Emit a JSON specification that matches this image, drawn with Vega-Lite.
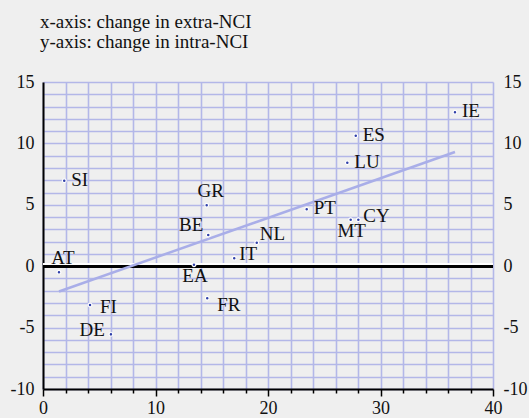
{
  "$schema": "https://vega.github.io/schema/vega-lite/v6.json",
  "width": 450,
  "height": 307,
  "autosize": {"type": "none"},
  "padding": {"left": 43, "top": 82, "right": 36, "bottom": 29},
  "background": "#efefef",
  "title": {
    "text": ["x-axis: change in extra-NCI", "y-axis: change in intra-NCI"],
    "anchor": "start",
    "frame": "group",
    "font": "'Liberation Serif', 'Times New Roman', serif",
    "fontSize": 19,
    "fontWeight": "normal",
    "color": "#111111",
    "lineHeight": 20,
    "offset": 6,
    "baseline": "alphabetic",
    "dx": -3
  },
  "config": {
    "view": {"stroke": null},
    "font": "'Liberation Serif', 'Times New Roman', serif",
    "text": {"font": "'Liberation Serif', 'Times New Roman', serif", "fontSize": 19, "color": "#111111", "baseline": "middle"}
  },
  "data": {
    "values": [
      {"country": "IE", "x": 36.62, "y": 12.53},
      {"country": "ES", "x": 27.8, "y": 10.63},
      {"country": "LU", "x": 27.05, "y": 8.43},
      {"country": "PT", "x": 23.44, "y": 4.63},
      {"country": "MT", "x": 27.35, "y": 3.78},
      {"country": "CY", "x": 28.03, "y": 3.78},
      {"country": "SI", "x": 1.89, "y": 6.96},
      {"country": "GR", "x": 14.55, "y": 4.96},
      {"country": "BE", "x": 14.69, "y": 2.54},
      {"country": "NL", "x": 19.0, "y": 1.91},
      {"country": "IT", "x": 17.0, "y": 0.64},
      {"country": "EA", "x": 13.42, "y": 0.12},
      {"country": "AT", "x": 1.42, "y": -0.5},
      {"country": "FI", "x": 4.18, "y": -3.16},
      {"country": "FR", "x": 14.6, "y": -2.61},
      {"country": "DE", "x": 6.04, "y": -5.55}
    ]
  },
  "resolve": {"axis": {"x": "independent", "y": "independent"}},
  "layer": [
    {
      "mark": {"type": "circle", "size": 0, "opacity": 0},
      "encoding": {
        "x": {
          "field": "x", "type": "quantitative",
          "scale": {"domain": [0, 40], "nice": false, "zero": false},
          "axis": {
            "title": null,
            "values": [0, 2, 4, 6, 8, 10, 12, 14, 16, 18, 20, 22, 24, 26, 28, 30, 32, 34, 36, 38, 40],
            "labelExpr": "datum.value % 10 === 0 ? datum.label : ''",
            "grid": true, "gridColor": "#b3b7e8", "gridWidth": 1.6, "gridOpacity": 1,
            "domainColor": "#000000", "domainWidth": 2,
            "tickColor": "#000000", "tickWidth": 1.5,
            "tickSize": {"condition": {"test": "datum.value % 10 === 0", "value": 7}, "value": 4},
            "labelFont": "'Liberation Serif', 'Times New Roman', serif", "labelFontSize": 18, "labelColor": "#111111",
            "labelPadding": 3, "labelFlush": false, "labelOverlap": false
          }
        },
        "y": {
          "field": "y", "type": "quantitative",
          "scale": {"domain": [-10, 15], "nice": false, "zero": false},
          "axis": {
            "title": null,
            "values": [-10, -9, -8, -7, -6, -5, -4, -3, -2, -1, 0, 1, 2, 3, 4, 5, 6, 7, 8, 9, 10, 11, 12, 13, 14, 15],
            "labelExpr": "datum.value % 5 === 0 ? (datum.value < 0 ? '-' + abs(datum.value) : '' + datum.value) : ''",
            "grid": true, "gridColor": "#b3b7e8", "gridWidth": 1.6, "gridOpacity": 1,
            "domainColor": "#000000", "domainWidth": 2,
            "ticks": false,
            "labelFont": "'Liberation Serif', 'Times New Roman', serif", "labelFontSize": 18, "labelColor": "#111111",
            "labelPadding": 9, "labelFlush": false, "labelOverlap": false
          }
        }
      }
    },
    {
      "mark": {"type": "rule", "color": "#ffffff", "strokeWidth": 2, "yOffset": -2},
      "encoding": {"y": {"datum": 0, "type": "quantitative", "axis": null}}
    },
    {
      "mark": {"type": "rule", "color": "#000000", "strokeWidth": 2},
      "encoding": {"y": {"datum": 0, "type": "quantitative", "axis": null}}
    },
    {
      "transform": [{"regression": "y", "on": "x"}],
      "mark": {"type": "line", "color": "#a9aee8", "strokeWidth": 2.5},
      "encoding": {
        "x": {"field": "x", "type": "quantitative", "axis": null},
        "y": {
          "field": "y", "type": "quantitative",
          "axis": {
            "orient": "right", "title": null,
            "values": [-10, -5, 0, 5, 10, 15],
            "labelExpr": "datum.value < 0 ? '-' + abs(datum.value) : '' + datum.value",
            "grid": false, "domain": false, "ticks": false,
            "labelFont": "'Liberation Serif', 'Times New Roman', serif", "labelFontSize": 18, "labelColor": "#111111",
            "labelPadding": 10, "labelFlush": false, "labelOverlap": false
          }
        }
      }
    },
    {
      "mark": {"type": "circle", "size": 14, "color": "#2f3fa8", "opacity": 1, "stroke": "#ffffff", "strokeWidth": 1.2},
      "encoding": {
        "x": {"field": "x", "type": "quantitative", "axis": null},
        "y": {"field": "y", "type": "quantitative", "axis": null}
      }
    },
    {
      "transform": [{"filter": {"field": "country", "oneOf": ["SI", "IE", "ES", "LU", "PT"]}}],
      "mark": {"type": "text", "align": "left", "dx": 7, "dy": -1},
      "encoding": {
        "x": {"field": "x", "type": "quantitative", "axis": null},
        "y": {"field": "y", "type": "quantitative", "axis": null},
        "text": {"field": "country"}
      }
    },
    {
      "transform": [{"filter": {"field": "country", "oneOf": ["IT", "CY"]}}],
      "mark": {"type": "text", "align": "left", "dx": 5, "dy": -4},
      "encoding": {
        "x": {"field": "x", "type": "quantitative", "axis": null},
        "y": {"field": "y", "type": "quantitative", "axis": null},
        "text": {"field": "country"}
      }
    },
    {
      "transform": [{"filter": {"field": "country", "equal": "FI"}}],
      "mark": {"type": "text", "align": "left", "dx": 10, "dy": 2},
      "encoding": {
        "x": {"field": "x", "type": "quantitative", "axis": null},
        "y": {"field": "y", "type": "quantitative", "axis": null},
        "text": {"field": "country"}
      }
    },
    {
      "transform": [{"filter": {"field": "country", "equal": "FR"}}],
      "mark": {"type": "text", "align": "left", "dx": 10, "dy": 7},
      "encoding": {
        "x": {"field": "x", "type": "quantitative", "axis": null},
        "y": {"field": "y", "type": "quantitative", "axis": null},
        "text": {"field": "country"}
      }
    },
    {
      "transform": [{"filter": {"field": "country", "equal": "NL"}}],
      "mark": {"type": "text", "align": "left", "dx": 3, "dy": -9},
      "encoding": {
        "x": {"field": "x", "type": "quantitative", "axis": null},
        "y": {"field": "y", "type": "quantitative", "axis": null},
        "text": {"field": "country"}
      }
    },
    {
      "transform": [{"filter": {"field": "country", "oneOf": ["GR", "AT"]}}],
      "mark": {"type": "text", "align": "center", "dx": 4, "dy": -14},
      "encoding": {
        "x": {"field": "x", "type": "quantitative", "axis": null},
        "y": {"field": "y", "type": "quantitative", "axis": null},
        "text": {"field": "country"}
      }
    },
    {
      "transform": [{"filter": {"field": "country", "oneOf": ["EA", "MT"]}}],
      "mark": {"type": "text", "align": "center", "dx": 1, "dy": 11},
      "encoding": {
        "x": {"field": "x", "type": "quantitative", "axis": null},
        "y": {"field": "y", "type": "quantitative", "axis": null},
        "text": {"field": "country"}
      }
    },
    {
      "transform": [{"filter": {"field": "country", "equal": "BE"}}],
      "mark": {"type": "text", "align": "right", "dx": -5, "dy": -10},
      "encoding": {
        "x": {"field": "x", "type": "quantitative", "axis": null},
        "y": {"field": "y", "type": "quantitative", "axis": null},
        "text": {"field": "country"}
      }
    },
    {
      "transform": [{"filter": {"field": "country", "equal": "DE"}}],
      "mark": {"type": "text", "align": "right", "dx": -6, "dy": -4},
      "encoding": {
        "x": {"field": "x", "type": "quantitative", "axis": null},
        "y": {"field": "y", "type": "quantitative", "axis": null},
        "text": {"field": "country"}
      }
    }
  ]
}
